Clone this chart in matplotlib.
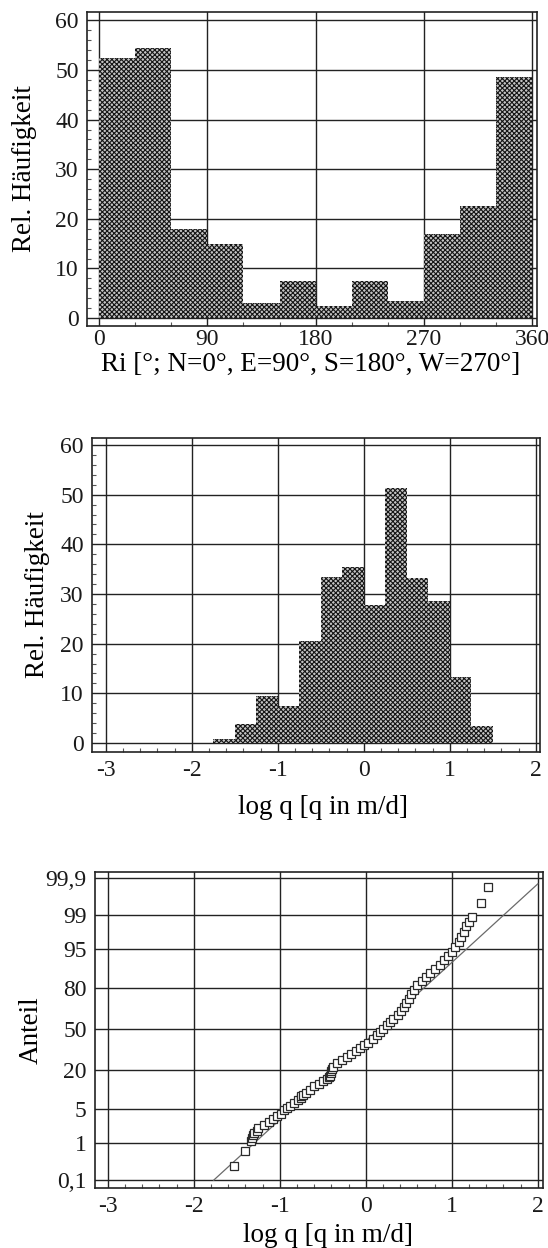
import matplotlib.pyplot as plt
from matplotlib.ticker import MultipleLocator
from statistics import NormalDist

plt.rcParams['font.family'] = ['Liberation Serif', 'DejaVu Serif']
plt.rcParams['axes.unicode_minus'] = False
plt.rcParams['hatch.linewidth'] = 0.8

# --- data ---
# direction histogram (30 deg bins, left edges)
ri_left = [0, 30, 60, 90, 120, 150, 180, 210, 240, 270, 300, 330]
ri_freq = [52.5, 54.5, 18, 15, 3, 7.5, 2.5, 7.5, 3.5, 17, 22.5, 48.5]

# log q histogram (0.25 bins, left edges)
q_left = [-1.75, -1.5, -1.25, -1.0, -0.75, -0.5, -0.25, 0.0, 0.25, 0.5, 0.75, 1.0, 1.25]
q_freq = [0.8, 3.8, 9.5, 7.5, 20.5, 33.5, 35.5, 27.8, 51.3, 33.2, 28.5, 13.2, 3.5]

# probability plot points (log q, cumulative %)
pp_x = [-1.53, -1.41, -1.33, -1.32, -1.31, -1.30, -1.27, -1.25, -1.19, -1.13,
        -1.08, -1.03, -0.99, -0.95, -0.92, -0.88, -0.84, -0.79, -0.76, -0.75,
        -0.73, -0.70, -0.65, -0.60, -0.55, -0.50, -0.45, -0.43, -0.42, -0.41,
        -0.40, -0.39, -0.38, -0.33, -0.28, -0.22, -0.17, -0.12, -0.07, -0.02,
        0.03, 0.08, 0.13, 0.17, 0.20, 0.24, 0.28, 0.32, 0.37, 0.41,
        0.44, 0.47, 0.50, 0.53, 0.56, 0.60, 0.65, 0.70, 0.75, 0.80,
        0.86, 0.91, 0.96, 1.00, 1.04, 1.08, 1.11, 1.14, 1.17, 1.20,
        1.23, 1.34, 1.42]
pp_p = [0.25, 0.65, 1.1, 1.3, 1.5, 1.7, 1.9, 2.1, 2.5, 2.9,
        3.3, 3.8, 4.2, 4.8, 5.3, 5.8, 6.5, 7.3, 7.8, 8.4,
        9.0, 9.6, 10.8, 12.0, 13.2, 14.2, 15.5, 16.3, 17.0, 18.5,
        19.5, 20.5, 22.0, 24.5, 26.5, 28.5, 30.5, 32.5, 35.0, 37.0,
        39.0, 42.0, 45.0, 47.5, 50.0, 53.0, 56.0, 58.5, 61.5, 64.5,
        67.5, 70.0, 73.0, 76.0, 79.0, 81.5, 83.5, 85.5, 87.5, 89.0,
        90.5, 92.0, 93.2, 94.3, 95.3, 96.2, 97.0, 97.6, 98.2, 98.6,
        98.9, 99.5, 99.81]

# fitted normal line (end points)
fit_x = [-1.77, 2.0]
fit_p = [0.1, 99.85]

prob_ticks = [0.1, 1, 5, 20, 50, 80, 95, 99, 99.9]
prob_labels = ['0,1', '1', '5', '20', '50', '80', '95', '99', '99,9']

nd = NormalDist()


def style(ax):
    ax.set_axisbelow(True)
    ax.grid(True, which='major', color='#222222', lw=1.0)
    for s in ax.spines.values():
        s.set_linewidth(1.2)
        s.set_color('#222222')
    ax.tick_params(which='major', length=0, labelsize=17, pad=6, colors='#1a1a1a')
    ax.tick_params(which='minor', direction='in', length=3, width=0.8, color='#555555')


fig = plt.figure(figsize=(5.48, 12.48), dpi=100)

# panel 1: direction
ax1 = fig.add_axes([87 / 548, 1 - 326 / 1248, 450 / 548, 314 / 1248])
ax1.bar(ri_left, ri_freq, width=30, align='edge', facecolor='#c4c4c4',
        edgecolor='#151515', linewidth=0, hatch='xxxxxxx')
ax1.set_xlim(-10, 364)
ax1.set_ylim(-1.6, 61.7)
ax1.set_xticks([0, 90, 180, 270, 360])
ax1.set_yticks(range(0, 61, 10))
ax1.xaxis.set_minor_locator(MultipleLocator(30))
ax1.yaxis.set_minor_locator(MultipleLocator(2))
style(ax1)
ax1.tick_params(axis='x', which='major', pad=2.5)
ax1.set_ylabel('Rel. Häufigkeit', fontsize=19.5)
ax1.yaxis.set_label_coords(-0.111, 0.5)
ax1.set_xlabel('Ri [°; N=0°, E=90°, S=180°, W=270°]', fontsize=19.5)
ax1.xaxis.set_label_coords(0.498, -0.084)

# panel 2: log q histogram
ax2 = fig.add_axes([92 / 548, 1 - 752 / 1248, 448 / 548, 314 / 1248])
ax2.bar(q_left, q_freq, width=0.25, align='edge', facecolor='#c4c4c4',
        edgecolor='#151515', linewidth=0, hatch='xxxxxxx')
ax2.set_xlim(-3.16, 2.05)
ax2.set_ylim(-1.8, 61.4)
ax2.set_xticks(range(-3, 3))
ax2.set_yticks(range(0, 61, 10))
ax2.xaxis.set_minor_locator(MultipleLocator(0.2))
ax2.yaxis.set_minor_locator(MultipleLocator(2))
style(ax2)
ax2.set_ylabel('Rel. Häufigkeit', fontsize=19.5)
ax2.yaxis.set_label_coords(-0.094, 0.5)
ax2.set_xlabel('log q [q in m/d]', fontsize=19.5)
ax2.xaxis.set_label_coords(0.516, -0.137)

# panel 3: probability plot
ax3 = fig.add_axes([95 / 548, 1 - 1188 / 1248, 448 / 548, 316 / 1248])
pp_z = [nd.inv_cdf(p / 100) for p in pp_p]
fit_z = [nd.inv_cdf(p / 100) for p in fit_p]
ax3.plot(fit_x, fit_z, color='#6a6a6a', lw=0.9, zorder=2)
ax3.plot(pp_x, pp_z, ls='none', marker='s', ms=6, mfc='white',
         mec='#2a2a2a', mew=0.9, zorder=3)
ax3.set_xlim(-3.15, 2.06)
ax3.set_ylim(-3.25, 3.21)
ax3.set_xticks(range(-3, 3))
ax3.set_yticks([nd.inv_cdf(p / 100) for p in prob_ticks])
ax3.set_yticklabels(prob_labels)
ax3.xaxis.set_minor_locator(MultipleLocator(0.2))
style(ax3)
ax3.set_ylabel('Anteil', fontsize=19.5)
ax3.yaxis.set_label_coords(-0.114, 0.5)
ax3.set_xlabel('log q [q in m/d]', fontsize=19.5)
ax3.xaxis.set_label_coords(0.52, -0.11)

fig.savefig('out.png', dpi=100)
